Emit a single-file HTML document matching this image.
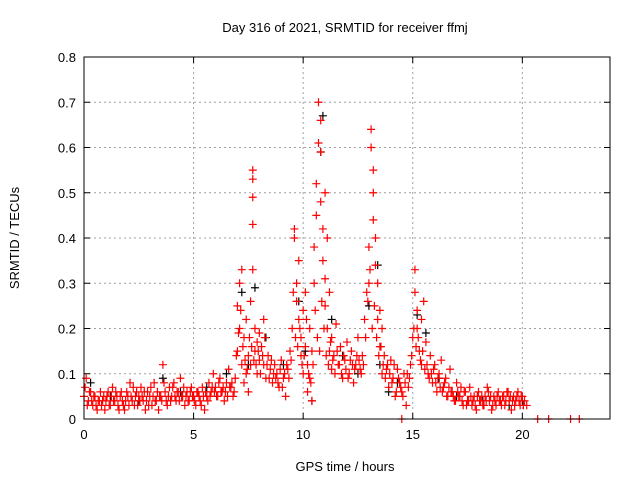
<!DOCTYPE html>
<html><head><meta charset="utf-8"><style>
body{margin:0;background:#fff;}
svg{display:block;font-family:"Liberation Sans",sans-serif;}
</style></head><body>
<svg id="chart" width="640" height="480">
<text x="345" y="32" text-anchor="middle" font-size="13">Day 316 of 2021, SRMTID for receiver ffmj</text>
<text x="19" y="238" text-anchor="middle" font-size="13" transform="rotate(-90 19 238)">SRMTID / TECUs</text>
<text x="345" y="471" text-anchor="middle" font-size="13">GPS time / hours</text>
<g id="grid"></g>
<g id="ticks"></g>
<g id="black"></g>
<g id="red"></g>
<rect x="84" y="57" width="526" height="362" fill="none" stroke="#000"/>
</svg>
<script>
const xTicks=[0,5,10,15,20];
const yTicks=[0,0.1,0.2,0.3,0.4,0.5,0.6,0.7,0.8];
const yTickLabels=["0","0.1","0.2","0.3","0.4","0.5","0.6","0.7","0.8"];
const redHours=[0.0,0.1,0.2,0.3,0.4,0.5,0.6,0.7,0.8,0.9,1.0,1.1,1.2,1.3,1.4,1.5,1.6,1.7,1.8,1.9,2.0,2.1,2.2,2.3,2.4,2.5,2.6,2.7,2.8,2.9,3.0,3.1,3.2,3.3,3.4,3.5,3.6,3.7,3.8,3.9,4.0,4.1,4.2,4.3,4.4,4.5,4.6,4.7,4.8,4.9,5.0,5.1,5.2,5.3,5.4,5.5,5.6,5.7,5.8,5.9,6.0,6.1,6.2,6.3,6.4,6.5,6.6,6.7,6.8,6.9,7.0,7.0,7.1,7.1,7.2,7.2,7.3,7.3,7.4,7.4,7.5,7.5,7.6,7.6,7.7,7.7,7.7,7.7,7.7,7.8,7.8,7.9,7.9,8.0,8.0,8.1,8.2,8.2,8.3,8.4,8.5,8.6,8.7,8.8,8.9,9.0,9.1,9.2,9.3,9.4,9.5,9.6,9.6,9.7,9.7,9.8,9.8,9.9,9.9,10.0,10.0,10.1,10.1,10.2,10.2,10.3,10.3,10.4,10.4,10.5,10.5,10.6,10.6,10.7,10.7,10.8,10.8,10.8,10.9,10.9,11.0,11.0,11.0,11.1,11.1,11.2,11.2,11.3,11.3,11.4,11.5,11.6,11.7,11.8,11.9,12.0,12.1,12.2,12.3,12.4,12.5,12.6,12.7,12.8,12.9,13.0,13.0,13.1,13.1,13.2,13.2,13.2,13.3,13.3,13.4,13.4,13.5,13.5,13.6,13.6,13.7,13.8,13.9,14.0,14.1,14.2,14.3,14.4,14.5,14.5,14.6,14.7,14.8,14.9,15.0,15.1,15.1,15.2,15.2,15.3,15.4,15.4,15.5,15.6,15.7,15.8,15.9,16.0,16.1,16.2,16.3,16.4,16.5,16.6,16.7,16.8,16.9,17.0,17.1,17.2,17.3,17.4,17.5,17.6,17.7,17.8,17.9,18.0,18.1,18.2,18.3,18.4,18.5,18.6,18.7,18.8,18.9,19.0,19.1,19.2,19.3,19.4,19.5,19.6,19.7,19.8,19.9,20.0,20.1,20.2,20.7,21.2,22.2,22.6];
const redTec=[0.05,0.09,0.04,0.06,0.03,0.05,0.02,0.04,0.03,0.05,0.04,0.06,0.03,0.07,0.04,0.05,0.02,0.06,0.03,0.04,0.05,0.08,0.04,0.03,0.06,0.05,0.07,0.04,0.02,0.06,0.05,0.03,0.08,0.04,0.02,0.05,0.12,0.06,0.03,0.07,0.05,0.08,0.04,0.06,0.09,0.05,0.03,0.06,0.04,0.07,0.05,0.03,0.06,0.04,0.07,0.02,0.05,0.08,0.06,0.10,0.07,0.05,0.09,0.06,0.04,0.08,0.11,0.07,0.05,0.09,0.25,0.15,0.20,0.30,0.12,0.33,0.18,0.08,0.22,0.10,0.14,0.06,0.26,0.12,0.55,0.53,0.49,0.43,0.33,0.20,0.15,0.10,0.17,0.13,0.19,0.16,0.22,0.12,0.09,0.14,0.11,0.08,0.12,0.10,0.07,0.13,0.09,0.05,0.11,0.15,0.20,0.42,0.40,0.30,0.26,0.35,0.22,0.18,0.14,0.24,0.10,0.28,0.16,0.12,0.06,0.20,0.09,0.15,0.04,0.38,0.30,0.52,0.45,0.70,0.61,0.66,0.59,0.48,0.42,0.35,0.50,0.31,0.25,0.40,0.20,0.28,0.15,0.18,0.11,0.14,0.21,0.12,0.16,0.09,0.13,0.17,0.10,0.15,0.08,0.12,0.18,0.11,0.14,0.22,0.28,0.38,0.30,0.64,0.60,0.55,0.50,0.44,0.40,0.34,0.30,0.22,0.24,0.16,0.20,0.10,0.14,0.11,0.07,0.13,0.09,0.05,0.11,0.08,0.0,0.06,0.10,0.03,0.07,0.12,0.18,0.33,0.28,0.24,0.20,0.15,0.22,0.12,0.26,0.17,0.10,0.14,0.08,0.12,0.06,0.10,0.13,0.07,0.09,0.05,0.11,0.06,0.04,0.08,0.05,0.07,0.03,0.06,0.04,0.07,0.03,0.05,0.02,0.06,0.04,0.03,0.05,0.07,0.04,0.02,0.05,0.03,0.06,0.04,0.05,0.03,0.06,0.04,0.02,0.05,0.04,0.06,0.03,0.05,0.04,0.03,0.0,0.0,0.0,0.0];
const redHours2=[0.05,0.15,0.25,0.35,0.45,0.55,0.65,0.75,0.85,0.95,1.05,1.15,1.25,1.35,1.45,1.55,1.65,1.75,1.85,1.95,2.05,2.15,2.25,2.35,2.45,2.55,2.65,2.75,2.85,2.95,3.05,3.15,3.25,3.35,3.45,3.55,3.65,3.75,3.85,3.95,4.05,4.15,4.25,4.35,4.45,4.55,4.65,4.75,4.85,4.95,5.05,5.15,5.25,5.35,5.45,5.55,5.65,5.75,5.85,5.95,6.05,6.15,6.25,6.35,6.45,6.55,6.65,6.75,6.85,6.95,7.05,7.15,7.25,7.35,7.45,7.55,7.65,7.75,7.85,7.95,8.05,8.15,8.25,8.35,8.45,8.55,8.65,8.75,8.85,8.95,9.05,9.15,9.25,9.35,9.45,9.55,9.65,9.75,9.85,9.95,10.05,10.15,10.25,10.35,10.45,10.55,10.65,10.75,10.85,10.95,11.05,11.15,11.25,11.35,11.45,11.55,11.65,11.75,11.85,11.95,12.05,12.15,12.25,12.35,12.45,12.55,12.65,12.75,12.85,12.95,13.05,13.15,13.25,13.35,13.45,13.55,13.65,13.75,13.85,13.95,14.05,14.15,14.25,14.35,14.45,14.55,14.65,14.75,14.85,14.95,15.05,15.15,15.25,15.35,15.45,15.55,15.65,15.75,15.85,15.95,16.05,16.15,16.25,16.35,16.45,16.55,16.65,16.75,16.85,16.95,17.05,17.15,17.25,17.35,17.45,17.55,17.65,17.75,17.85,17.95,18.05,18.15,18.25,18.35,18.45,18.55,18.65,18.75,18.85,18.95,19.05,19.15,19.25,19.35,19.45,19.55,19.65,19.75,19.85,19.95,20.05,20.15];
const redTec2=[0.07,0.03,0.06,0.04,0.05,0.03,0.04,0.06,0.04,0.02,0.05,0.03,0.05,0.04,0.06,0.03,0.05,0.04,0.02,0.06,0.03,0.05,0.07,0.05,0.03,0.04,0.05,0.06,0.04,0.03,0.07,0.05,0.04,0.06,0.05,0.04,0.08,0.04,0.05,0.04,0.07,0.05,0.06,0.04,0.05,0.07,0.05,0.04,0.06,0.05,0.04,0.06,0.05,0.03,0.05,0.06,0.04,0.05,0.07,0.06,0.05,0.08,0.06,0.07,0.06,0.05,0.07,0.08,0.06,0.14,0.19,0.24,0.16,0.13,0.11,0.18,0.16,0.13,0.12,0.15,0.10,0.14,0.18,0.12,0.09,0.13,0.10,0.09,0.08,0.11,0.07,0.10,0.12,0.09,0.13,0.28,0.18,0.16,0.20,0.12,0.14,0.22,0.10,0.08,0.12,0.24,0.18,0.15,0.26,0.20,0.14,0.12,0.17,0.13,0.10,0.15,0.12,0.10,0.14,0.11,0.09,0.13,0.12,0.11,0.14,0.13,0.10,0.12,0.18,0.26,0.33,0.20,0.25,0.18,0.14,0.16,0.12,0.09,0.12,0.10,0.08,0.12,0.06,0.09,0.07,0.05,0.08,0.10,0.09,0.14,0.20,0.16,0.18,0.13,0.15,0.11,0.12,0.09,0.10,0.11,0.08,0.09,0.07,0.06,0.08,0.05,0.07,0.06,0.05,0.04,0.06,0.05,0.04,0.06,0.03,0.04,0.05,0.04,0.03,0.05,0.04,0.05,0.03,0.04,0.06,0.05,0.03,0.04,0.05,0.04,0.03,0.05,0.04,0.06,0.05,0.04,0.03,0.05,0.04,0.05,0.03];
const blackHours=[0.3,1.2,2.5,3.6,4.4,5.6,6.5,7.2,7.5,7.8,8.3,9.1,9.8,10.1,10.4,10.8,10.9,11.3,11.8,12.5,13.0,13.4,13.5,13.9,14.3,15.2,15.6,16.2,17.0,18.2,19.4,20.0];
const blackTec=[0.08,0.05,0.04,0.09,0.06,0.07,0.10,0.28,0.12,0.29,0.18,0.12,0.26,0.15,0.04,0.59,0.67,0.22,0.14,0.10,0.25,0.34,0.12,0.06,0.08,0.23,0.19,0.09,0.05,0.04,0.03,0.04];
const NS="http://www.w3.org/2000/svg";
const X0=84,X1=610,Y0=419,Y1=57;
function xs(h){return X0+(h/24)*(X1-X0);}
function ys(v){return Y0-(v/0.8)*(Y0-Y1);}
function mk(tag,attrs,parent){const e=document.createElementNS(NS,tag);for(const k in attrs)e.setAttribute(k,attrs[k]);parent.appendChild(e);return e;}
const grid=document.getElementById('grid'),ticks=document.getElementById('ticks');
xTicks.forEach(t=>{const x=xs(t);
 if(t>0){const l=mk('line',{x1:x,x2:x,y1:Y1,y2:Y0,stroke:'#a0a0a0','stroke-dasharray':'2,3'},grid);
 
 }
 mk('line',{x1:x,x2:x,y1:Y0,y2:Y0-6,stroke:'#000'},ticks);
 mk('line',{x1:x,x2:x,y1:Y1,y2:Y1+6,stroke:'#000'},ticks);
 const tx=mk('text',{x:x,y:Y0+20,'text-anchor':'middle','font-size':13},ticks);tx.textContent=t;
 
 
});
yTicks.forEach((t,i)=>{const y=ys(t);
 if(t>0&&t<0.8){const l=mk('line',{x1:X0,x2:X1,y1:y,y2:y,stroke:'#a0a0a0','stroke-dasharray':'2,3'},grid);
 
 }
 mk('line',{x1:X0,x2:X0+6,y1:y,y2:y,stroke:'#000'},ticks);
 mk('line',{x1:X1,x2:X1-6,y1:y,y2:y,stroke:'#000'},ticks);
 const tx=mk('text',{x:X0-8,y:y+5,'text-anchor':'end','font-size':13},ticks);tx.textContent=yTickLabels[i];
 
 
});
function plus(g,h,v,c){const x=xs(h),y=ys(v);
 return mk('path',{d:`M${x-4},${y}H${x+4}M${x},${y-4}V${y+4}`,stroke:c,'stroke-width':1.2,fill:'none'},g);}
const bg=document.getElementById('black'),rg=document.getElementById('red');
blackHours.forEach((h,i)=>{const p=plus(bg,h,blackTec[i],'#000');
 
 });
redHours.forEach((h,i)=>{const p=plus(rg,h,redTec[i],'#f00');
 
 });
redHours2.forEach((h,i)=>{const p=plus(rg,h,redTec2[i],'#f00');
 
 });
</script>
</body></html>
